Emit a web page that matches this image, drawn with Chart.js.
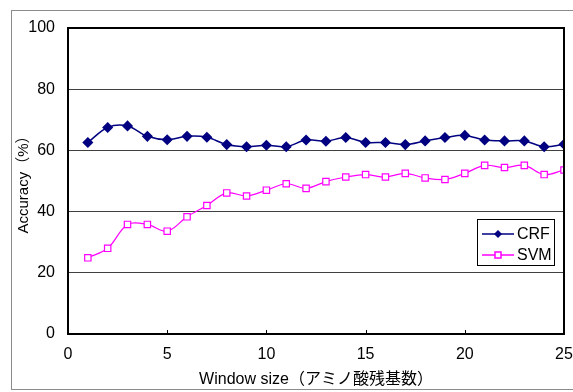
<!DOCTYPE html>
<html>
<head>
<meta charset="utf-8">
<script src="https://cdn.jsdelivr.net/npm/chart.js@4/dist/chart.umd.min.js"></script>
<style>
  html, body { margin: 0; padding: 0; background: #fff; }
  #wrap { width: 573px; height: 392px; position: relative; }
</style>
</head>
<body>
<div id="wrap"><canvas id="chart" width="573" height="392"></canvas></div>
<script>
  'use strict';

  // window sizes
  const windowSizes = [1, 2, 3, 4, 5, 6, 7, 8, 9, 10, 11, 12, 13, 14, 15, 16, 17, 18, 19, 20, 21, 22, 23, 24, 25];
  // accuracy (%)
  const crfValues = [62.6, 67.5, 68.0, 64.6, 63.5, 64.6, 64.3, 61.9, 61.2, 61.7, 61.2, 63.4,
    63.0, 64.2, 62.6, 62.6, 61.9, 63.1, 64.2, 64.9, 63.4, 63.1, 63.1, 61.2, 62.0];
  const svmValues = [24.9, 28.0, 35.8, 35.8, 33.6, 38.3, 42.0, 46.1, 45.1, 47.0, 49.1, 47.6,
    49.8, 51.3, 52.1, 51.3, 52.5, 51.0, 50.5, 52.5, 55.1, 54.4, 55.1, 52.1, 53.6];
  const xTicks = [0, 5, 10, 15, 20, 25];
  const yTicks = [0, 20, 40, 60, 80, 100];
  const seriesNames = ['CRF', 'SVM'];

  const FONT = "'Liberation Sans', Arial, 'Noto Sans CJK JP', sans-serif";

  function toPoints(vals) {
    return windowSizes.map((x, i) => ({ x: x, y: vals[i] }));
  }

  // frame, plot border, inner ticks and the boxed legend
  const decor = {
    id: 'decor',
    afterDraw(chart) {
      const { ctx, chartArea: a, scales } = chart;
      ctx.save();

      // outer frame
      ctx.strokeStyle = '#8c8c8c';
      ctx.lineWidth = 1;
      ctx.strokeRect(11.5, 10.5, 570, 379);

      // plot border
      ctx.strokeStyle = '#000';
      ctx.lineWidth = 2;
      ctx.strokeRect(a.left, a.top, a.right - a.left, a.bottom - a.top);

      // inner tick marks on x axis
      ctx.lineWidth = 1;
      xTicks.slice(1, -1).forEach(v => {
        const px = Math.round(scales.x.getPixelForValue(v)) + 0.5;
        ctx.beginPath();
        ctx.moveTo(px, a.bottom);
        ctx.lineTo(px, a.bottom - 4);
        ctx.stroke();
      });

      // legend
      const lx = 477, ly = 219, lw = 77, lh = 46;
      ctx.fillStyle = '#fff';
      ctx.fillRect(lx, ly, lw, lh);
      ctx.strokeStyle = '#000';
      ctx.lineWidth = 1;
      ctx.strokeRect(lx + 0.5, ly + 0.5, lw, lh);

      ctx.font = '16px ' + FONT;
      ctx.textBaseline = 'middle';
      ctx.textAlign = 'left';
      chart.data.datasets.forEach((ds, i) => {
        const cy = ly + 15 + i * 21;
        ctx.strokeStyle = ds.borderColor;
        ctx.lineWidth = 1.5;
        ctx.beginPath();
        ctx.moveTo(lx + 5, cy);
        ctx.lineTo(lx + 37, cy);
        ctx.stroke();
        const mx = lx + 21;
        if (ds.pointStyle === 'rectRot') {
          ctx.fillStyle = ds.pointBackgroundColor;
          ctx.beginPath();
          ctx.moveTo(mx, cy - 4);
          ctx.lineTo(mx + 4, cy);
          ctx.lineTo(mx, cy + 4);
          ctx.lineTo(mx - 4, cy);
          ctx.closePath();
          ctx.fill();
        } else {
          ctx.fillStyle = '#fff';
          ctx.fillRect(mx - 3, cy - 3, 6, 6);
          ctx.strokeRect(mx - 3, cy - 3, 6, 6);
        }
        ctx.fillStyle = '#000';
        ctx.fillText(ds.label, lx + 40, cy + 1);
      });
      ctx.restore();
    }
  };

  new Chart(document.getElementById('chart'), {
    type: 'line',
    data: {
      datasets: [{
        label: seriesNames[0],
        data: toPoints(crfValues),
        borderColor: '#000080',
        backgroundColor: '#000080',
        pointBackgroundColor: '#000080',
        pointBorderColor: '#000080',
        pointStyle: 'rectRot',
        pointRadius: 4.5,
        borderWidth: 1.5,
        tension: 0.35,
        fill: false
      }, {
        label: seriesNames[1],
        data: toPoints(svmValues),
        borderColor: '#ff00ff',
        backgroundColor: '#fff',
        pointBackgroundColor: '#fff',
        pointBorderColor: '#ff00ff',
        pointBorderWidth: 1.2,
        pointStyle: 'rect',
        pointRadius: 4.5,
        borderWidth: 1.2,
        tension: 0.35,
        fill: false
      }]
    },
    options: {
      responsive: false,
      animation: false,
      layout: { padding: { top: 28, right: 9, left: 0, bottom: 0 } },
      plugins: {
        legend: { display: false },
        tooltip: { enabled: false }
      },
      scales: {
        x: {
          type: 'linear',
          min: 0,
          max: 25,
          afterBuildTicks: s => { s.ticks = xTicks.map(v => ({ value: v })); },
          afterFit: s => { s.height = 58; s.paddingLeft = 0; s.paddingRight = 0; },
          grid: { display: false, drawTicks: false },
          border: { display: false },
          ticks: { color: '#000', padding: 11, font: { family: FONT, size: 16 } },
          title: {
            display: true,
            text: 'Window size（アミノ酸残基数）',
            color: '#000',
            font: { family: FONT, size: 16 },
            padding: { top: 0, bottom: 3 }
          }
        },
        y: {
          min: 0,
          max: 100,
          afterBuildTicks: s => { s.ticks = yTicks.map(v => ({ value: v })); },
          afterFit: s => { s.width = 68; s.paddingTop = 0; s.paddingBottom = 0; },
          grid: { color: '#404040', lineWidth: 1, drawTicks: false },
          border: { display: false },
          ticks: { color: '#000', padding: 13, font: { family: FONT, size: 16 } },
          title: {
            display: true,
            text: 'Accuracy（%）',
            color: '#000',
            font: { family: FONT, size: 15 },
            padding: { top: 15, bottom: 0 }
          }
        }
      }
    },
    plugins: [decor]
  });
</script>
</body>
</html>
